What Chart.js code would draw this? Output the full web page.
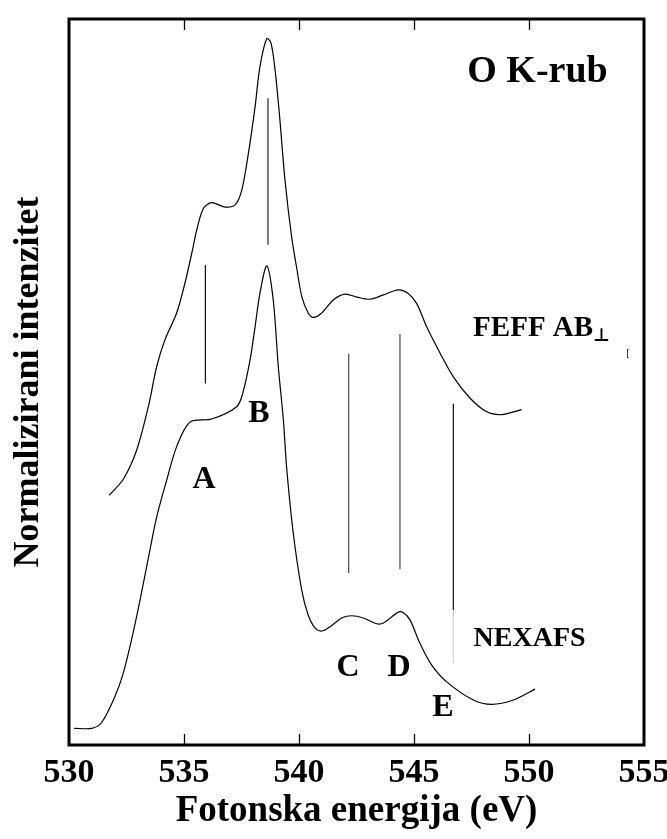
<!DOCTYPE html>
<html>
<head>
<meta charset="utf-8">
<script src="https://cdn.jsdelivr.net/npm/chart.js@4/dist/chart.umd.min.js"></script>
<style>
  html, body { margin: 0; padding: 0; background: #fff; }
  #wrap { width: 667px; height: 839px; }
</style>
</head>
<body>
<div id="wrap"><canvas id="myChart" width="667" height="839"></canvas></div>
<script>
// energija (eV) i intenzitet (proizvoljne jedinice)
var nexafsE = [530.22, 530.99, 531.42, 532.0, 532.36, 532.72, 533.09, 533.49, 533.81, 534.25, 534.68, 535.26, 536.2, 537.29, 537.55, 537.87, 538.09, 538.3, 538.6, 538.88, 539.1, 539.32, 539.46, 539.75, 540.12, 540.4, 540.7, 540.99, 541.35, 541.86, 542.29, 542.8, 543.38, 543.67, 544.32, 544.54, 544.83, 545.26, 545.77, 546.42, 547.58, 548.38, 549.32, 550.26];
var nexafsI = [0.23, 0.23, 0.31, 0.67, 0.99, 1.45, 2.00, 2.64, 3.14, 3.65, 4.11, 4.45, 4.49, 4.66, 4.84, 5.30, 5.76, 6.22, 6.60, 6.13, 5.21, 4.48, 3.83, 2.92, 2.13, 1.79, 1.61, 1.57, 1.63, 1.75, 1.78, 1.75, 1.67, 1.68, 1.83, 1.82, 1.72, 1.40, 1.10, 0.87, 0.62, 0.56, 0.62, 0.77];

var feffE = [531.75, 532.36, 532.94, 533.45, 533.81, 534.17, 534.68, 535.04, 535.37, 535.55, 535.84, 536.2, 536.78, 537.22, 537.51, 537.8, 538.09, 538.3, 538.6, 538.78, 538.96, 539.17, 539.39, 539.68, 539.9, 540.12, 540.4, 540.62, 540.99, 541.49, 542.0, 542.51, 543.09, 543.67, 544.32, 544.75, 545.12, 545.55, 546.13, 546.71, 547.43, 548.16, 548.81, 549.68];
var feffI = [3.44, 3.66, 4.06, 4.66, 5.21, 5.58, 5.95, 6.36, 6.82, 7.09, 7.39, 7.47, 7.41, 7.44, 7.64, 8.15, 8.79, 9.34, 9.73, 9.67, 9.30, 8.61, 7.78, 7.00, 6.57, 6.18, 5.95, 5.89, 5.95, 6.13, 6.21, 6.17, 6.14, 6.20, 6.27, 6.22, 6.08, 5.76, 5.40, 5.07, 4.78, 4.59, 4.55, 4.62];

// okomite crte (polozaji rezonancija)
var markE = [535.93, 538.65, 542.16, 544.39, 546.71, 546.71];
var markTop = [6.61, 8.91, 5.39, 5.66, 4.70, 1.86];
var markBottom = [4.98, 6.89, 2.37, 2.42, 1.86, 1.13];
var markColor = ['#111', '#7a7a7a', '#555', '#555', '#111', '#d0d0d0'];
var markWidth = [1.2, 2, 1.3, 1.3, 1.2, 1.2];

var xTicks = [530, 535, 540, 545, 550, 555];

// natpisi
var labelText = ['O K-rub', 'FEFF AB', 'NEXAFS', 'A', 'B', 'C', 'D', 'E'];
var labelE = [550.37, 547.57, 547.59, 535.87, 538.26, 542.13, 544.35, 546.26];
var labelI = [9.27, 5.73, 1.46, 3.65, 4.56, 1.06, 1.06, 0.51];
var labelSize = [38, 29, 28, 32, 32, 32, 32, 32];
var labelAlign = ['center', 'left', 'left', 'center', 'center', 'center', 'center', 'center'];

function toPoints(xs, ys) {
    return xs.map(function (x, i) { return { x: x, y: ys[i] }; });
}

var datasets = [
    { data: toPoints(nexafsE, nexafsI), borderColor: '#000', borderWidth: 1.2, tension: 0.3 },
    { data: toPoints(feffE, feffI), borderColor: '#000', borderWidth: 1.2, tension: 0.3 }
];
for (var i = 0; i < markE.length; i++) {
    datasets.push({
        data: [{ x: markE[i], y: markTop[i] }, { x: markE[i], y: markBottom[i] }],
        borderColor: markColor[i],
        borderWidth: markWidth[i],
        tension: 0
    });
}
datasets.forEach(function (d) {
    d.showLine = true;
    d.pointRadius = 0;
    d.fill = false;
});

var serif = '"Liberation Serif", "Times New Roman", serif';

var frame = {
    id: 'frame',
    afterDraw: function (chart) {
        var ctx = chart.ctx;
        var a = chart.chartArea;
        var xs = chart.scales.x;
        var ys = chart.scales.y;
        ctx.save();
        ctx.strokeStyle = '#000';
        ctx.lineWidth = 1.3;
        xs.ticks.forEach(function (t, i) {
            if (i === 0 || i === xs.ticks.length - 1) return;
            var px = Math.round(xs.getPixelForValue(t.value)) + 0.5;
            ctx.beginPath();
            ctx.moveTo(px, a.bottom);
            ctx.lineTo(px, a.bottom - 11);
            ctx.moveTo(px, a.top);
            ctx.lineTo(px, a.top + 11);
            ctx.stroke();
        });
        ctx.lineWidth = 3;
        ctx.strokeRect(a.left, a.top, a.right - a.left, a.bottom - a.top);

        ctx.fillStyle = '#000';
        ctx.textBaseline = 'middle';
        for (var i = 0; i < labelText.length; i++) {
            var lx = xs.getPixelForValue(labelE[i]);
            var ly = ys.getPixelForValue(labelI[i]);
            ctx.font = 'bold ' + labelSize[i] + 'px ' + serif;
            ctx.textAlign = labelAlign[i];
            ctx.fillText(labelText[i], lx, ly);
            if (labelText[i] === 'FEFF AB') {
                var w = ctx.measureText(labelText[i]).width;
                ctx.font = 'bold 18px ' + serif + ', "DejaVu Sans"';
                ctx.textAlign = 'left';
                ctx.fillText('\u22A5', lx + w, ly + 7);
            }
        }
        // sitni ostatak oznake desno od FEFF
        ctx.font = '10px ' + serif;
        ctx.textAlign = 'center';
        ctx.fillText('[', xs.getPixelForValue(554.3), ys.getPixelForValue(5.39));
        ctx.restore();
    }
};

var ctx = document.getElementById('myChart').getContext('2d');

var chart = new Chart(ctx, {
    type: 'scatter',
    data: { datasets: datasets },
    options: {
        responsive: false,
        animation: false,
        events: [],
        layout: { padding: { top: 19, right: 23, left: 0, bottom: 0 } },
        plugins: { legend: { display: false }, tooltip: { enabled: false } },
        scales: {
            x: {
                type: 'linear',
                min: 530,
                max: 555,
                afterBuildTicks: function (scale) {
                    scale.ticks = xTicks.map(function (v) { return { value: v }; });
                },
                afterFit: function (scale) {
                    scale.height = 94;
                    scale.paddingLeft = 0;
                    scale.paddingRight = 0;
                },
                grid: { display: false },
                border: { display: false },
                ticks: {
                    autoSkip: false,
                    maxRotation: 0,
                    padding: 0,
                    color: '#000',
                    font: { family: serif, size: 34, weight: 'bold' },
                    callback: function (v) { return v; }
                },
                title: {
                    display: true,
                    text: 'Fotonska energija (eV)',
                    color: '#000',
                    padding: { top: 0, bottom: 5 },
                    font: { family: serif, size: 37, weight: 'bold' }
                }
            },
            y: {
                type: 'linear',
                min: 0,
                max: 10,
                afterFit: function (scale) { scale.width = 69; },
                grid: { display: false },
                border: { display: false },
                ticks: { display: false },
                title: {
                    display: true,
                    text: 'Normalizirani intenzitet',
                    color: '#000',
                    padding: { top: 7, bottom: 0 },
                    font: { family: serif, size: 36, weight: 'bold' }
                }
            }
        }
    },
    plugins: [frame]
});
</script>
</body>
</html>
